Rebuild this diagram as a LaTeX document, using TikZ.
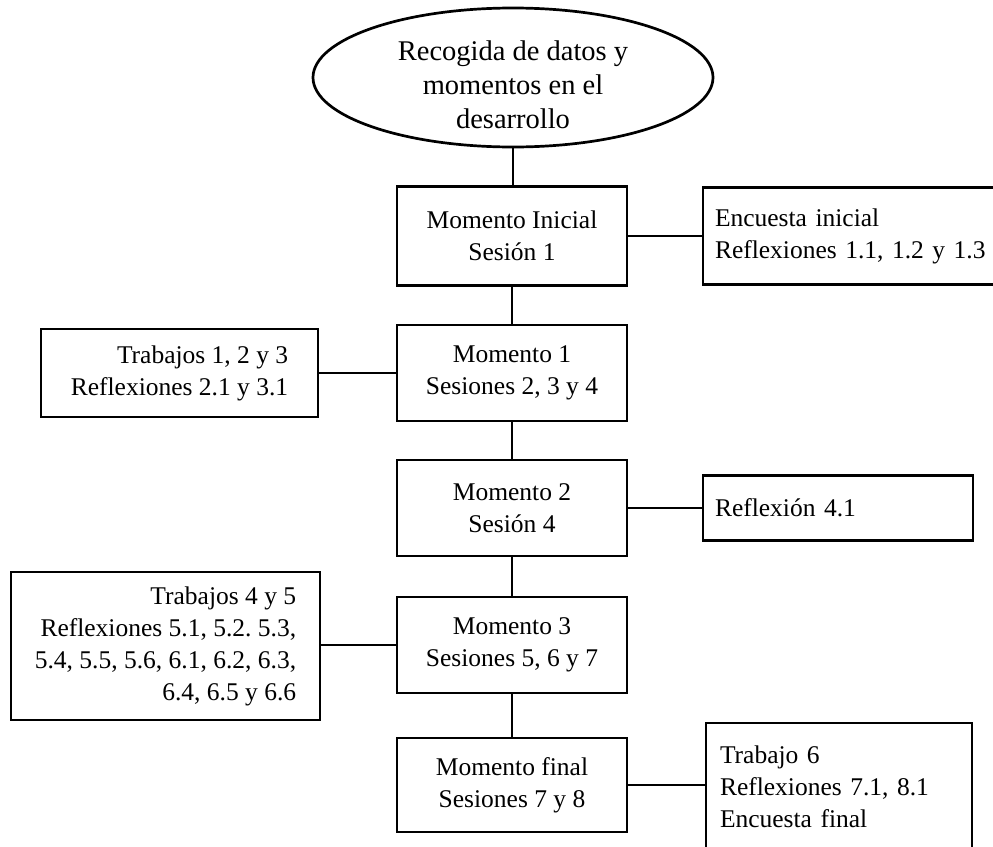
\documentclass[tikz,border=0pt]{standalone}
\usepackage{fontspec}
\setmainfont{Liberation Serif}
\frenchspacing
\usetikzlibrary{shapes.geometric}

\tikzset{
  boxtext/.style={font=\fontsize{25.5}{32}\selectfont},
  stagebox/.style={draw, line width=2.7pt, rectangle, inner xsep=0pt, inner ysep=0pt,
                   boxtext, align=center, minimum width=230pt, minimum height=#1},
  notebox/.style={draw, line width=2.7pt, rectangle, inner ysep=0pt, boxtext},
  link/.style={line width=2.3pt}
}

\begin{document}
\begin{tikzpicture}[x=1pt, y=-1pt]
  \useasboundingbox (0,0) rectangle (993,846);
  \clip (0,0) rectangle (993,846);

  % title ellipse
  \node[draw, ellipse, line width=2.7pt, minimum width=400pt, minimum height=139pt] (title) at (513,77.5) {};
  \node[font=\fontsize{28.5}{34}\selectfont, align=center] (titletext) at (513,85)
    {Recogida de datos y\\momentos en el\\desarrollo};

  % central column of stages
  \node[stagebox=99pt] (m0) at (512,236) {Momento Inicial\\Sesión 1};
  \node[stagebox=96pt] (m1) at (512,373) {Momento 1\\Sesiones 2, 3 y 4};
  \node[stagebox=96pt] (m2) at (512,508) {Momento 2\\Sesión 4};
  \node[stagebox=96pt] (m3) at (512,645) {Momento 3\\Sesiones 5, 6 y 7};
  \node[stagebox=94pt] (mf) at (512,785) {Momento final\\Sesiones 7 y 8};

  % side notes
  \node[notebox, inner xsep=12pt, text width=300pt, minimum height=97pt, align=left] (n0) at (865,236)
    {Encuesta inicial\\Reflexiones 1.1, 1.2 y 1.3};
  \node[notebox, inner xsep=0pt, minimum width=277pt, minimum height=88pt, align=right] (n1) at (179.5,373)
    {Trabajos 1, 2 y 3\\Reflexiones 2.1 y 3.1};
  \node[notebox, inner xsep=12pt, text width=246pt, minimum height=65pt, align=left] (n2) at (838,508)
    {Reflexión 4.1};
  \node[notebox, inner xsep=0pt, minimum width=309pt, minimum height=148pt, align=right] (n3) at (165.5,646)
    {Trabajos 4 y 5\\Reflexiones 5.1, 5.2. 5.3,\\5.4, 5.5, 5.6, 6.1, 6.2, 6.3,\\6.4, 6.5 y 6.6};
  \node[notebox, inner xsep=14pt, text width=238pt, minimum height=127pt, align=left] (nf) at (839,786.5)
    {Trabajo 6\\Reflexiones 7.1, 8.1\\Encuesta final};

  % vertical links
  \draw[link] (title.south) -- (title.south |- m0.north);
  \draw[link] (m0.south) -- (m1.north);
  \draw[link] (m1.south) -- (m2.north);
  \draw[link] (m2.south) -- (m3.north);
  \draw[link] (m3.south) -- (mf.north);

  % horizontal links
  \draw[link] (m0.east) -- (n0.west);
  \draw[link] (m1.west) -- (n1.east);
  \draw[link] (m2.east) -- (n2.west);
  \draw[link] (m3.west) -- (m3.west -| n3.east);
  \draw[link] (mf.east) -- (mf.east -| nf.west);
\end{tikzpicture}
\end{document}
